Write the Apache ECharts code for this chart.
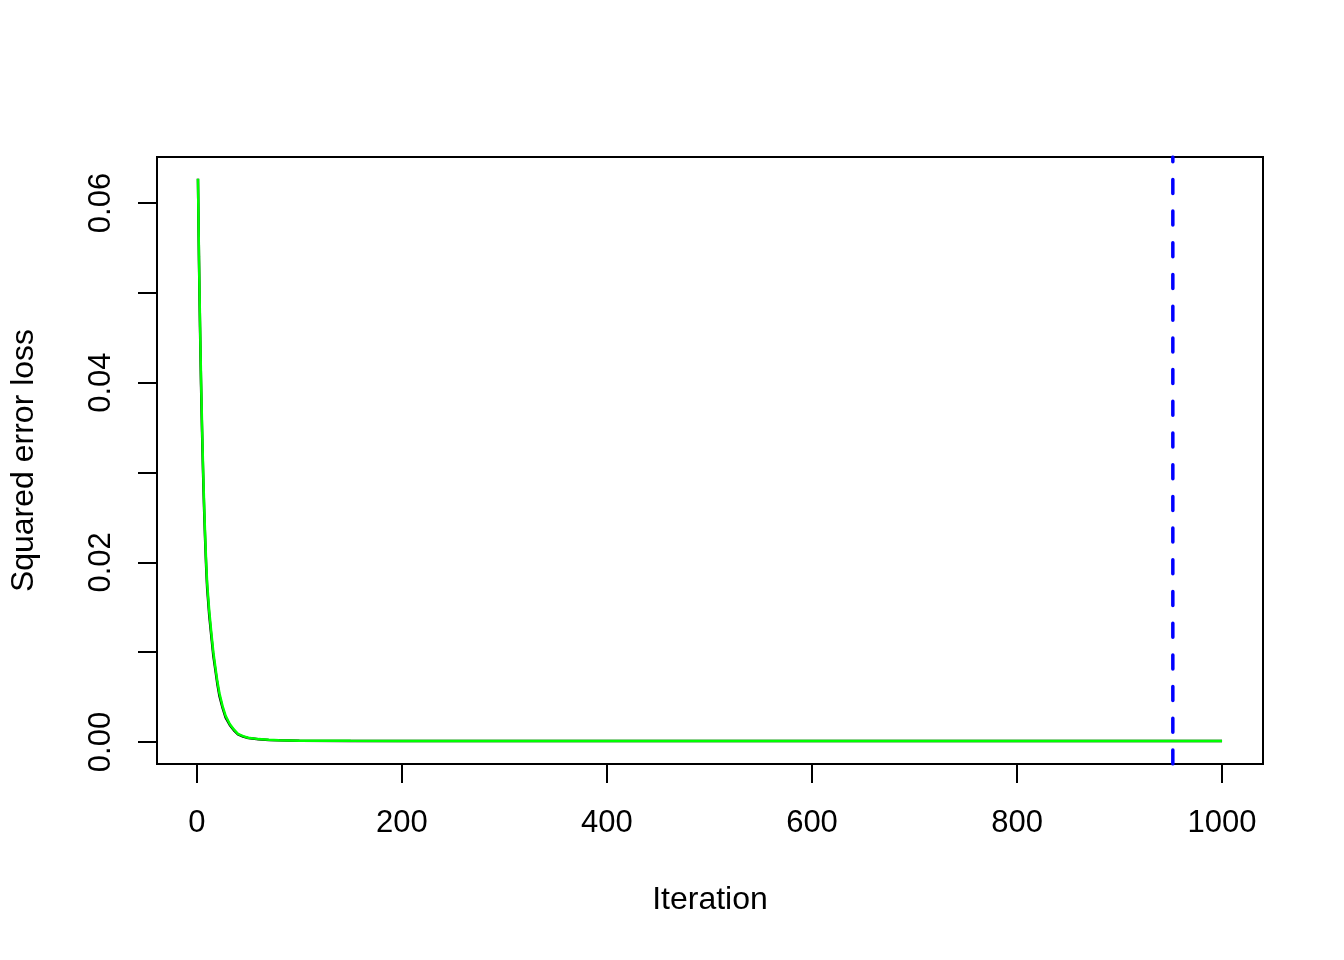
<!DOCTYPE html>
<html>
<head>
<meta charset="utf-8">
<script src="https://cdn.jsdelivr.net/npm/echarts@6/dist/echarts.min.js"></script>
<style>html,body{margin:0;padding:0;background:#fff}#c{width:1344px;height:960px}</style>
</head>
<body>
<div id="c"></div>
<script>
const iterations = [1,2,3,4,5,6,7,8,9,10,12,14,16,18,20,22,25,28,32,36,40,45,50,60,70,80,100,150,200,300,400,500,600,700,800,900,1000];
const lossGreen = [0.0627,0.0540,0.0468,0.0405,0.0352,0.0305,0.0265,0.0230,0.0200,0.0176,0.0146,0.0122,0.0100,0.0083,0.0067,0.0054,0.0040,0.0029,0.0020,0.0014,0.0009,0.00065,0.00048,0.00032,0.00024,0.00019,0.00015,0.00013,0.00012,0.00011,0.0001,0.0001,0.0001,0.0001,0.0001,0.0001,0.0001];
const lossBlack = [0.0627,0.0536,0.0462,0.0398,0.0345,0.0299,0.0259,0.0225,0.0195,0.0171,0.0141,0.0118,0.0096,0.0080,0.0064,0.0051,0.0038,0.0027,0.0019,0.0013,0.00085,0.0006,0.00045,0.0003,0.00022,0.00018,0.00014,0.00012,0.00011,0.0001,0.0001,0.0001,0.0001,0.0001,0.0001,0.0001,0.0001];
const bestIteration = 952;
const xTicks = [0,200,400,600,800,1000];
const yTicks = [0,0.01,0.02,0.03,0.04,0.05,0.06];
const yLabels = [0,0.02,0.04,0.06];
const xMin = -38.96, xMax = 1039.96, yMin = -0.00245, yMax = 0.06512;

const font = 'Liberation Sans, Arial, Helvetica, sans-serif';
const chart = echarts.init(document.getElementById('c'));
chart.setOption({
  animation: false,
  backgroundColor: '#fff',
  grid: {left: 157, right: 81, top: 157, bottom: 196, show: true, borderColor: '#000', borderWidth: 2, backgroundColor: 'transparent', containLabel: false, outerBoundsMode: 'none'},
  xAxis: {
    type: 'value', min: xMin, max: xMax,
    name: 'Iteration', nameLocation: 'middle', nameGap: 120,
    nameTextStyle: {fontFamily: font, fontSize: 32, color: '#000'},
    axisLine: {show: false, onZero: false},
    splitLine: {show: false},
    axisTick: {show: true, length: 19, lineStyle: {color: '#000', width: 2}, customValues: xTicks},
    axisLabel: {show: true, customValues: xTicks, margin: 44, fontFamily: font, fontSize: 31, color: '#000', formatter: v => String(Math.round(v))}
  },
  yAxis: {
    type: 'value', min: yMin, max: yMax,
    name: 'Squared error loss', nameLocation: 'middle', nameGap: 117,
    nameTextStyle: {fontFamily: font, fontSize: 32, color: '#000'},
    axisLine: {show: false, onZero: false},
    splitLine: {show: false},
    axisTick: {show: true, length: 19, lineStyle: {color: '#000', width: 2}, customValues: yTicks},
    axisLabel: {show: true, customValues: yLabels, rotate: 90, margin: 40, fontFamily: font, fontSize: 31, color: '#000', formatter: v => v.toFixed(2)}
  },
  series: [
    {type: 'line', data: iterations.map((x,i)=>[x, lossBlack[i]]), showSymbol: false, lineStyle: {color: '#000', width: 2.5}, z: 2},
    {type: 'line', data: iterations.map((x,i)=>[x, lossGreen[i]]), showSymbol: false, lineStyle: {color: '#00ff00', width: 2.5}, z: 3},
    {type: 'line', data: [[bestIteration, yMin], [bestIteration, yMax]], showSymbol: false, lineStyle: {color: '#0000ff', width: 3.5, type: [14, 17.7], cap: 'round'}, z: 4}
  ]
});
</script>
</body>
</html>
